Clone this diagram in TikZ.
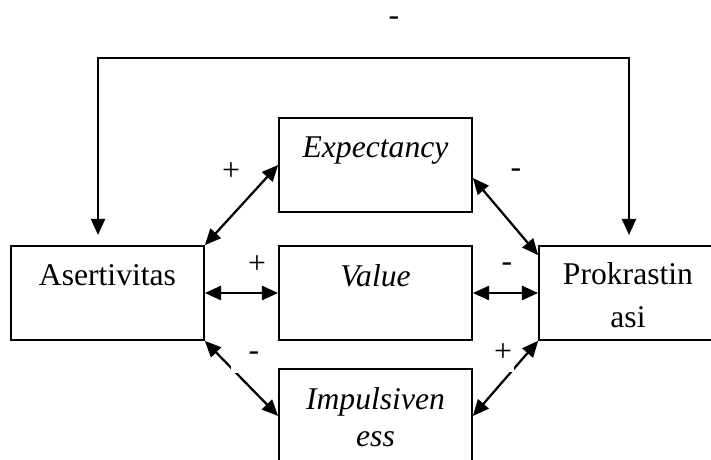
\documentclass[tikz,border=0pt]{standalone}
\usepackage{fontspec}
\setmainfont{Liberation Serif}
\usetikzlibrary{calc,positioning,arrows.meta}
\tikzset{
	kotak/.style={draw, line width=1.2pt, minimum width=4.825cm, minimum height=2.35cm, inner sep=0pt},
	teks/.style={inner sep=0pt, align=center, font=\fontsize{22.5}{30.6}\selectfont},
	tanda/.style={inner sep=0pt, font=\fontsize{22.5}{27}\selectfont},
	panah/.style={line width=1.6pt, {Triangle[length=11.5pt,width=10pt]}-{Triangle[length=11.5pt,width=10pt]}}
}

\begin{document}
\begin{tikzpicture}[x=0.025cm,y=-0.025cm]

\useasboundingbox (0,0) rectangle (711,460);

% kotak-kotak variabel
\node[kotak] (asr) at (107.5,293) {};
\node[kotak] (exp) at (375.5,165) {};
\node[kotak] (val) at (375.5,293) {};
\node[kotak] (imp) at (375.5,416) {};
\node[kotak, minimum width=4.45cm] (pro) at (628,293) {};

% teks di dalam kotak
\node[teks, anchor=north] (asrt) at ($(asr.north)+(0,19)$) {Asertivitas};
\node[teks, anchor=north] (expt) at ($(exp.north)+(0,19)$) {\textit{Expectancy}};
\node[teks, anchor=north] (valt) at ($(val.north)+(0,19)$) {\textit{Value}};
\node[teks, anchor=north, font=\fontsize{22.5}{26.3}\selectfont] (impt) at ($(imp.north)+(0,19)$) {\textit{Impulsiven}\\\textit{ess}};
\node[teks, anchor=north] (prot) at ($(pro.north)+(0,17)$) {Prokrastin\\asi};

% garis atas
\coordinate (asrin) at (98,235);
\coordinate (proin) at (629,235);
\coordinate (atas) at (363,58);
\draw[panah] (asrin) |- (atas) -| (proin);
\node[tanda] (mtop) at (394,21) {-};

% panah dua arah
\draw[panah] (asr.north east) -- (exp.west);
\draw[panah] ($(exp.east)+(0,13)$) -- ($(pro.north west)+(0,10)$);
\draw[panah] (asr.east) -- (val.west);
\draw[panah] (val.east) -- (pro.west);
\draw[panah] (asr.south east) -- (imp.west);
\draw[panah] (imp.east) -- (pro.south west);

% tanda hubungan
\node[tanda] (p1) at (231,172) {+};
\node[tanda] (m1) at (516,173) {-};
\node[tanda] (p2) at (257,265) {+};
\node[tanda] (m2) at (507,267) {-};
\node[tanda, fill=white, minimum width=1.15cm, minimum height=0.85cm] (m3) at (254,356) {-};
\node[tanda, fill=white, minimum width=0.55cm, minimum height=0.95cm] (p3) at (503,353) {+};

\end{tikzpicture}
\end{document}
